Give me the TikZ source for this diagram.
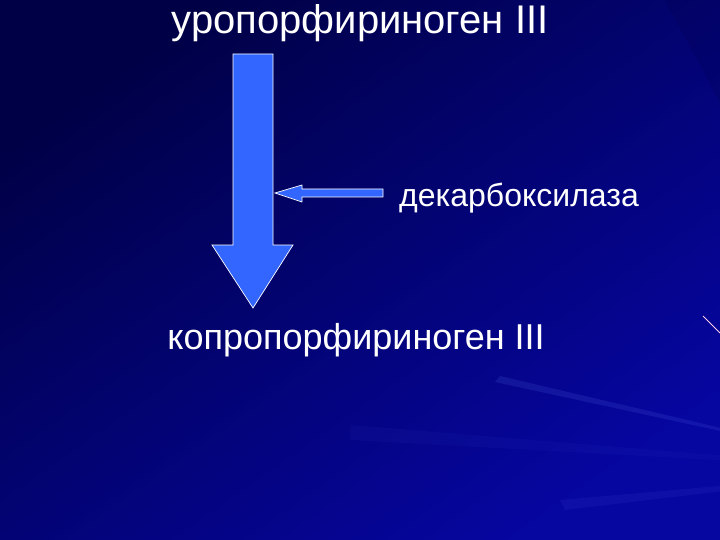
\documentclass[tikz,border=0pt]{standalone}
\usepackage{fontspec}
\setmainfont{Liberation Sans}
\usetikzlibrary{calc}
\definecolor{bgdark}{RGB}{0, 0, 70}
\definecolor{bglight}{RGB}{6, 6, 160}
\definecolor{arrowblue}{RGB}{51, 102, 255}
\definecolor{raylight}{RGB}{80, 100, 220}

\begin{document}
\begin{tikzpicture}[x=1pt, y=-1pt,
  label/.style={text=white, inner sep=0pt},
  blockarrow/.style={fill=arrowblue, draw=white, line width=0.7pt, line join=miter}]
% Background
\shade[top color=bgdark, bottom color=bglight, shading angle=35] (0,0) rectangle (720,540);
\useasboundingbox (0,0) rectangle (720,540);

% Faint rays from the right
\begin{scope}
\clip (0,0) rectangle (720,540);
\fill[raylight, opacity=0.18] (900,470) -- (500,376) -- (495,382) -- cycle;
\fill[raylight, opacity=0.10] (900,470) -- (560,500) -- (565,510) -- cycle;
\fill[raylight, opacity=0.06] (900,470) -- (350,425) -- (350,440) -- cycle;
\fill[bgdark, opacity=0.18] (760,-20) -- (650,0) -- (665,0) -- (740,140) -- cycle;
\draw[white!80!magenta, line width=0.8pt] (703,316) -- (720,333);
\end{scope}

% Texts
\node[label, font=\fontsize{40}{40}\selectfont, anchor=base] (uro) at (360,34) {уропорфириноген III};
\node[label, font=\fontsize{36}{36}\selectfont, anchor=base] (copro) at (356,349) {копропорфириноген III};
\node[label, font=\fontsize{32}{32}\selectfont, anchor=base west] (enz) at (399,207) {декарбоксилаза};

% Main arrow
\coordinate (top) at (253,54);
\coordinate (tip) at (253,308);
\draw[blockarrow] ($(top)+(-20,0)$) -- ($(top)+(20,0)$) -- ($(tip)+(20,-63)$)
  -- ($(tip)+(40,-63)$) -- (tip) -- ($(tip)+(-41,-63)$) -- ($(tip)+(-20,-63)$) -- cycle;

% Enzyme arrow
\coordinate (etip) at (275,193);
\coordinate (etail) at (383,193);
\draw[blockarrow] (etail) ++(0,-4) -- ++(-81,0) -- ++(0,-4) -- (etip)
  -- ($(etip)+(27,9)$) -- ++(0,-5) -- ($(etail)+(0,4)$) -- cycle;
\end{tikzpicture}
\end{document}
